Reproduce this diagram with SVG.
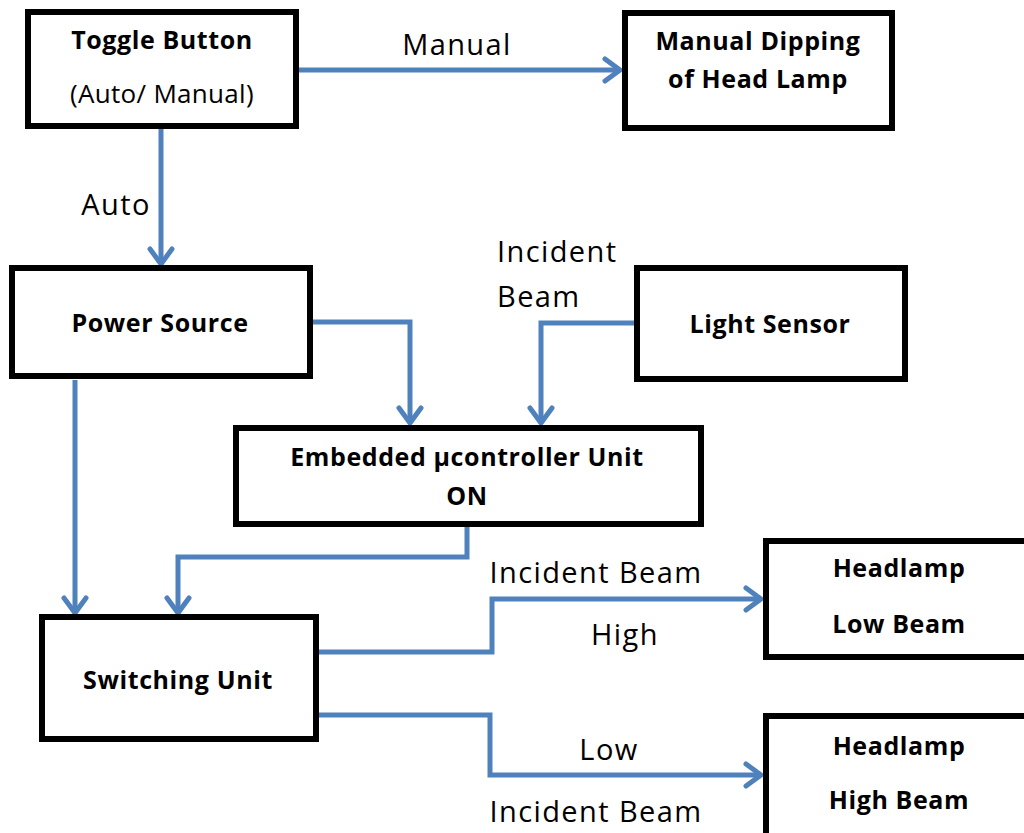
<svg xmlns="http://www.w3.org/2000/svg" width="1024" height="833" viewBox="0 0 1024 833">
<style>
.box{fill:#fff;stroke:#000;stroke-width:6}
.b{font-family:"Open Sans","Liberation Sans",sans-serif;font-weight:bold;font-size:25px;text-anchor:middle;fill:#000;letter-spacing:0.6px}
.r{font-family:"Open Sans","Liberation Sans",sans-serif;font-size:26px;text-anchor:middle;fill:#000;letter-spacing:0.3px}
.l{font-family:"Open Sans","Liberation Sans",sans-serif;font-size:29px;fill:#000;letter-spacing:1.4px}
.c{fill:none;stroke:#4F81BD;stroke-width:5;stroke-linejoin:miter}
</style>
<defs>
<marker id="ah" markerUnits="userSpaceOnUse" markerWidth="40" markerHeight="40" refX="0" refY="0" viewBox="-20 -20 40 40" orient="auto" overflow="visible">
<path d="M-15,-11 L0,0 L-15,11" fill="none" stroke="#4F81BD" stroke-width="5" stroke-linecap="round" stroke-linejoin="round"/>
</marker>
</defs>
<rect width="1024" height="833" fill="#fff"/>
<g id="connectors">
<path class="c" d="M298,70 L620,70" marker-end="url(#ah)"/>
<path class="c" d="M161,128 L161,264" marker-end="url(#ah)"/>
<path class="c" d="M313,322 L410,322 L410,423" marker-end="url(#ah)"/>
<path class="c" d="M635,323 L541,323 L541,423" marker-end="url(#ah)"/>
<path class="c" d="M467,526 L467,557 L178,557 L178,613" marker-end="url(#ah)"/>
<path class="c" d="M75,380 L75,613" marker-end="url(#ah)"/>
<path class="c" d="M316,652 L492,652 L492,599 L761,599" marker-end="url(#ah)"/>
<path class="c" d="M316,715 L490,715 L490,775 L761,775" marker-end="url(#ah)"/>
<text class="l" x="457" y="55" text-anchor="middle">Manual</text>
<text class="l" x="116" y="215" text-anchor="middle">Auto</text>
<text class="l" x="497" y="262">Incident</text>
<text class="l" x="497" y="307">Beam</text>
<text class="l" x="596" y="583" text-anchor="middle">Incident Beam</text>
<text class="l" x="625" y="645" text-anchor="middle">High</text>
<text class="l" x="609" y="760" text-anchor="middle">Low</text>
<text class="l" x="596" y="822" text-anchor="middle">Incident Beam</text>
</g>
<g id="toggle">
<rect class="box" x="28" y="12" width="268" height="114"/>
<text class="b" x="162" y="49">Toggle Button</text>
<text class="r" x="162" y="103">(Auto/ Manual)</text>
</g>
<g id="manual-dipping">
<rect class="box" x="625" y="13" width="267" height="115"/>
<text class="b" x="758" y="50">Manual Dipping</text>
<text class="b" x="758" y="88">of Head Lamp</text>
</g>
<g id="power">
<rect class="box" x="12" y="268" width="298" height="108"/>
<text class="b" x="160" y="332">Power Source</text>
</g>
<g id="light-sensor">
<rect class="box" x="637" y="268" width="268" height="111"/>
<text class="b" x="770" y="333">Light Sensor</text>
</g>
<g id="embedded">
<rect class="box" x="236" y="428" width="465" height="96"/>
<text class="b" x="467" y="466">Embedded µcontroller Unit</text>
<text class="b" x="467" y="505">ON</text>
</g>
<g id="switching">
<rect class="box" x="42" y="617" width="274" height="122"/>
<text class="b" x="178" y="689">Switching Unit</text>
</g>
<g id="headlamp-low">
<rect class="box" x="766" y="541" width="262" height="116"/>
<text class="b" x="899" y="577">Headlamp</text>
<text class="b" x="899" y="633">Low Beam</text>
</g>
<g id="headlamp-high">
<rect class="box" x="766" y="716" width="262" height="125"/>
<text class="b" x="899" y="755">Headlamp</text>
<text class="b" x="899" y="809">High Beam</text>
</g>
</svg>
